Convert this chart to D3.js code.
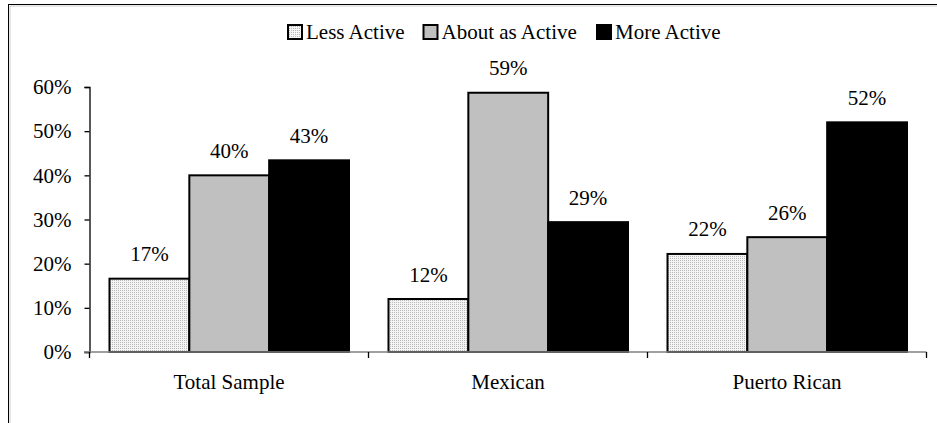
<!DOCTYPE html>
<html>
<head>
<meta charset="utf-8">
<script src="https://cdn.jsdelivr.net/npm/d3@7"></script>
<style>
  html, body { margin: 0; padding: 0; background: #fff; }
  svg { display: block; }
</style>
</head>
<body>
<svg id="chart" width="937" height="423"></svg>
<script>
const categories = ["Total Sample", "Mexican", "Puerto Rican"];
const seriesNames = ["Less Active", "About as Active", "More Active"];
const lessActive = [0.166, 0.12, 0.222];
const aboutAsActive = [0.40, 0.587, 0.26];
const moreActive = [0.434, 0.294, 0.52];
const yTicks = [0, 0.1, 0.2, 0.3, 0.4, 0.5, 0.6];

const seriesValues = [lessActive, aboutAsActive, moreActive];
const fills = ["url(#dots)", "#c0c0c0", "#000000"];
const FONT = "'Liberation Serif'";

function serif(sel) {
  return sel.style("font-family", FONT).style("font-size", "21px").style("fill", "#000");
}

const svg = d3.select("#chart");

// pattern for "Less Active"
const defs = svg.append("defs");
const pat = defs.append("pattern").attr("id", "dots")
  .attr("width", 2).attr("height", 2).attr("patternUnits", "userSpaceOnUse");
pat.append("rect").attr("width", 2).attr("height", 2).attr("fill", "#f4f4f4");
pat.append("rect").attr("width", 1).attr("height", 1).attr("fill", "#b8b8b8");

// outer frame (extends past viewport)
svg.append("rect").attr("x", 8.5).attr("y", 4.5).attr("width", 1000).attr("height", 1000)
  .attr("fill", "none").attr("stroke", "#000").attr("stroke-width", 1);
svg.append("line").attr("x1", 10).attr("x2", 10).attr("y1", 6).attr("y2", 423)
  .attr("stroke", "#cfcfcf").attr("stroke-width", 1);
svg.append("line").attr("x1", 10).attr("x2", 937).attr("y1", 6).attr("y2", 6)
  .attr("stroke", "#cfcfcf").attr("stroke-width", 1);

const x0 = d3.scaleBand().domain(categories).range([89.5, 926.5]).padding(0);
const x1 = d3.scaleBand().domain(seriesNames).range([20, x0.bandwidth() - 19.5]).padding(0);
const y = d3.scaleLinear().domain([0, 0.6]).range([352, 87]);

// bars
const data = [];
categories.forEach((c, i) => {
  seriesNames.forEach((s, j) => {
    data.push({ cat: c, ser: s, j: j, v: seriesValues[j][i] });
  });
});

const g = svg.append("g");
g.selectAll("rect.bar").data(data).enter().append("rect")
  .attr("class", "bar")
  .attr("x", d => x0(d.cat) + x1(d.ser))
  .attr("y", d => y(d.v))
  .attr("width", x1.bandwidth())
  .attr("height", d => y(0) - y(d.v))
  .attr("fill", d => fills[d.j])
  .attr("stroke", "#000")
  .attr("stroke-width", 2);

// value labels
const fmt = d3.format(".0%");
serif(g.selectAll("text.val").data(data).enter().append("text")
  .attr("class", "val")
  .attr("x", d => x0(d.cat) + x1(d.ser) + x1.bandwidth() / 2)
  .attr("y", d => y(d.v) - 17.5)
  .attr("text-anchor", "middle")
  .text(d => fmt(d.v)));

// y axis
const yAxis = d3.axisLeft(y).tickValues(yTicks).tickFormat(d3.format(".0%")).tickSize(5).tickPadding(13);
const ya = svg.append("g").attr("transform", "translate(89.5,0)").call(yAxis);
ya.select(".domain").attr("stroke", "#000").attr("stroke-width", 1.3);
ya.selectAll(".tick line").attr("stroke", "#000").attr("stroke-width", 1.3);
serif(ya.selectAll(".tick text"));

// x axis
const xa = svg.append("g").attr("transform", "translate(0,352)");
xa.append("line").attr("x1", 84).attr("x2", x0.range()[1]).attr("y1", 0).attr("y2", 0)
  .attr("stroke", "#808080").attr("stroke-width", 1.5);
const boundaries = categories.map(c => x0(c)).concat([x0(categories[categories.length - 1]) + x0.bandwidth()]);
xa.selectAll("line.tk").data(boundaries).enter().append("line")
  .attr("class", "tk")
  .attr("x1", d => d).attr("x2", d => d).attr("y1", 0).attr("y2", 6)
  .attr("stroke", "#000").attr("stroke-width", 1.3);
serif(xa.selectAll("text.cat").data(categories).enter().append("text")
  .attr("class", "cat")
  .attr("x", d => x0(d) + x0.bandwidth() / 2)
  .attr("y", 37)
  .attr("text-anchor", "middle")
  .text(d => d));

// legend
const legendX = [287, 422.5, 596];
const lg = svg.append("g");
const items = lg.selectAll("g.li").data(seriesNames).enter().append("g")
  .attr("class", "li")
  .attr("transform", (d, i) => `translate(${legendX[i]},0)`);
items.append("rect")
  .attr("x", 1).attr("y", 25).attr("width", 14).attr("height", 14)
  .attr("fill", (d, i) => fills[i])
  .attr("stroke", "#000").attr("stroke-width", 2);
serif(items.append("text")
  .attr("x", 19).attr("y", 39)
  .text(d => d));
</script>
</body>
</html>
